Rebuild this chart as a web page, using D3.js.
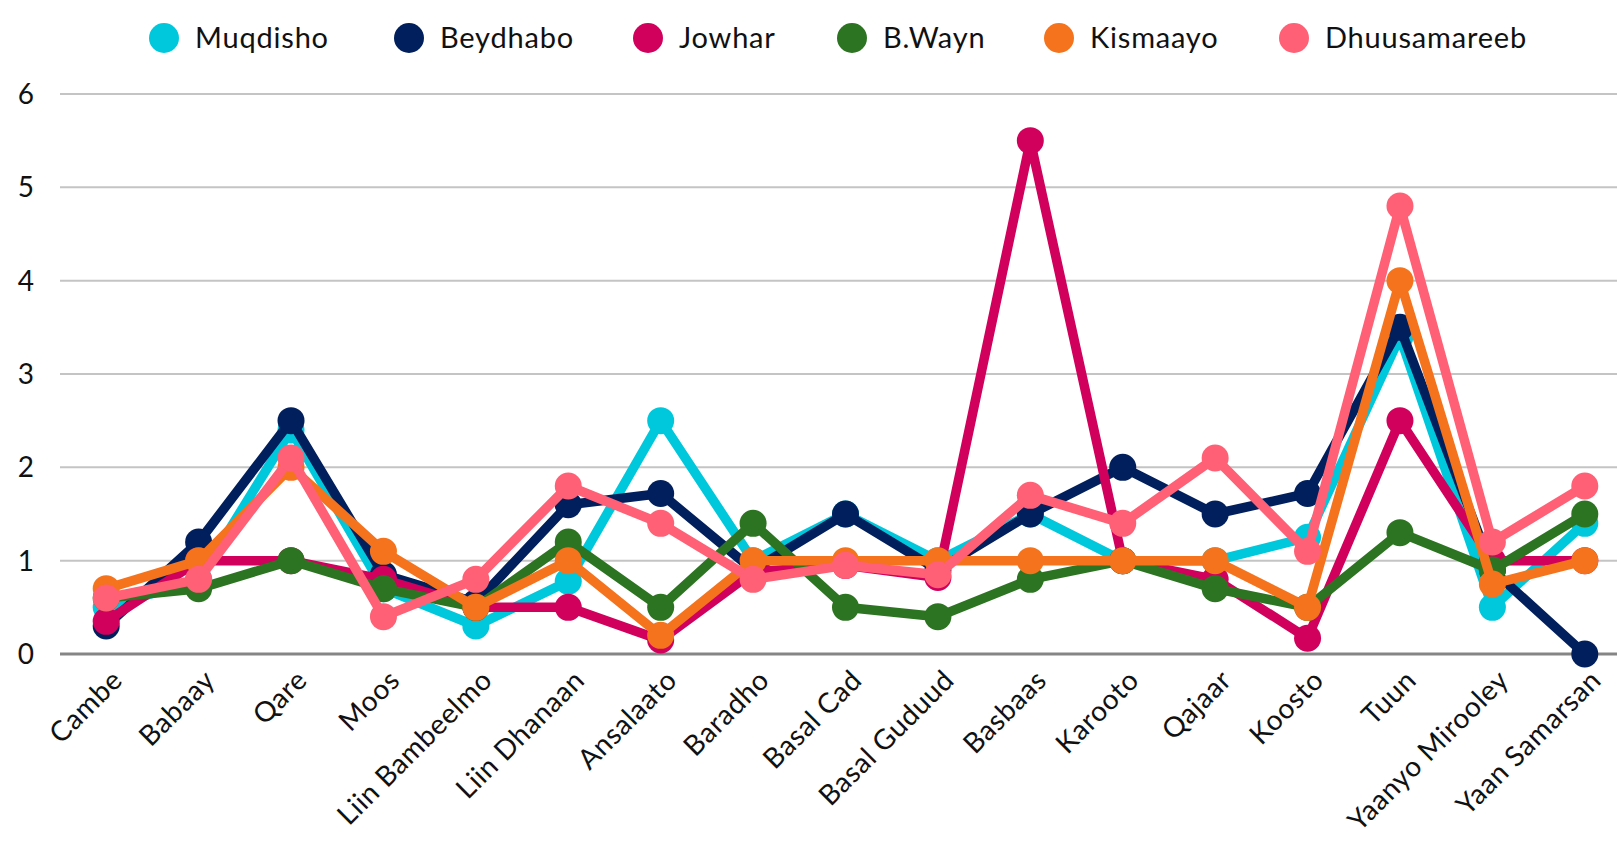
<!DOCTYPE html>
<html>
<head>
<meta charset="utf-8">
<script src="https://cdn.jsdelivr.net/npm/d3@7"></script>
<style>
  body { margin: 0; background: #fff; overflow: hidden; }
  svg { display: block; font-family: Lato, "Open Sans", sans-serif; }
</style>
</head>
<body>
<svg id="chart" width="1617" height="850"></svg>
<script>
const categories = ["Cambe", "Babaay", "Qare", "Moos", "Liin Bambeelmo", "Liin Dhanaan", "Ansalaato",
  "Baradho", "Basal Cad", "Basal Guduud", "Basbaas", "Karooto", "Qajaar", "Koosto", "Tuun",
  "Yaanyo Mirooley", "Yaan Samarsan"];

const seriesNames = ["Muqdisho", "Beydhabo", "Jowhar", "B.Wayn", "Kismaayo", "Dhuusamareeb"];
const seriesColors = ["#00c8dc", "#001f5c", "#d0005c", "#2c7421", "#f5731c", "#ff6075"];

const muqdisho     = [0.5, 0.8, 2.4, 0.7, 0.3, 0.78, 2.5, 1.0, 1.5, 1.0, 1.5, 1.0, 1.0, 1.25, 3.4, 0.5, 1.4];
const beydhabo     = [0.3, 1.2, 2.5, 0.85, 0.55, 1.6, 1.72, 0.9, 1.5, 0.9, 1.5, 2.0, 1.5, 1.72, 3.5, 0.9, 0];
const jowhar       = [0.35, 1.0, 1.0, 0.8, 0.5, 0.5, 0.15, 0.88, 0.95, 0.82, 5.5, 1.0, 0.8, 0.17, 2.5, 1.0, 1.0];
const bWayn        = [0.6, 0.7, 1.0, 0.7, 0.5, 1.2, 0.5, 1.4, 0.5, 0.4, 0.8, 1.0, 0.7, 0.5, 1.3, 0.9, 1.5];
const kismaayo     = [0.7, 1.0, 2.0, 1.1, 0.5, 1.0, 0.2, 1.0, 1.0, 1.0, 1.0, 1.0, 1.0, 0.5, 4.0, 0.75, 1.0];
const dhuusamareeb = [0.6, 0.8, 2.1, 0.4, 0.8, 1.8, 1.4, 0.8, 0.95, 0.85, 1.7, 1.4, 2.1, 1.1, 4.8, 1.2, 1.8];

const yTicks = [0, 1, 2, 3, 4, 5, 6];

const allValues = [muqdisho, beydhabo, jowhar, bWayn, kismaayo, dhuusamareeb];
const series = seriesNames.map((name, i) => ({ name, color: seriesColors[i], values: allValues[i] }));

const svg = d3.select("#chart");
const width = 1617;

const x = d3.scaleBand().domain(categories).range([60, 1631]);
const y = d3.scaleLinear().domain([0, 6]).range([654, 94]);
const cx = d => x(d) + x.bandwidth() / 2;

// grid
svg.append("g")
  .selectAll("line")
  .data(yTicks.filter(t => t > 0))
  .join("line")
  .attr("x1", 60)
  .attr("x2", width)
  .attr("y1", d => y(d))
  .attr("y2", d => y(d))
  .attr("stroke", "#c4c4c4")
  .attr("stroke-width", 2);

svg.append("line")
  .attr("x1", 60).attr("x2", width)
  .attr("y1", y(0)).attr("y2", y(0))
  .attr("stroke", "#858585")
  .attr("stroke-width", 3);

// y tick labels
svg.append("g")
  .selectAll("text")
  .data(yTicks)
  .join("text")
  .attr("x", 34)
  .attr("y", d => y(d))
  .attr("dy", "0.36em")
  .attr("text-anchor", "end")
  .attr("font-size", 28)
  .attr("fill", "#111")
  .text(d => d);

// x labels
svg.append("g")
  .selectAll("text")
  .data(categories)
  .join("text")
  .attr("transform", d => `translate(${cx(d) + 11},${675}) rotate(-45)`)
  .attr("text-anchor", "end")
  .attr("dy", "0.35em")
  .attr("font-size", 28)
  .attr("letter-spacing", 0.6)
  .attr("fill", "#111")
  .text(d => d);

// lines and markers
const line = d3.line()
  .x((d, i) => cx(categories[i]))
  .y(d => y(d));

series.forEach(s => {
  const g = svg.append("g");
  g.append("path")
    .attr("d", line(s.values))
    .attr("fill", "none")
    .attr("stroke", s.color)
    .attr("stroke-width", 9.5)
    .attr("stroke-linejoin", "round");
  g.selectAll("circle")
    .data(s.values)
    .join("circle")
    .attr("cx", (d, i) => cx(categories[i]))
    .attr("cy", d => y(d))
    .attr("r", 13.5)
    .attr("fill", s.color);
});

// legend
const legendX = [164, 409, 648, 852, 1059, 1294];
const legend = svg.append("g")
  .selectAll("g")
  .data(series)
  .join("g")
  .attr("transform", (d, i) => `translate(${legendX[i]},38)`);

legend.append("circle")
  .attr("r", 15)
  .attr("fill", d => d.color);

legend.append("text")
  .attr("x", 31)
  .attr("dy", "0.35em")
  .attr("font-size", 29)
  .attr("letter-spacing", 0.8)
  .attr("fill", "#111")
  .text(d => d.name);
</script>
</body>
</html>
